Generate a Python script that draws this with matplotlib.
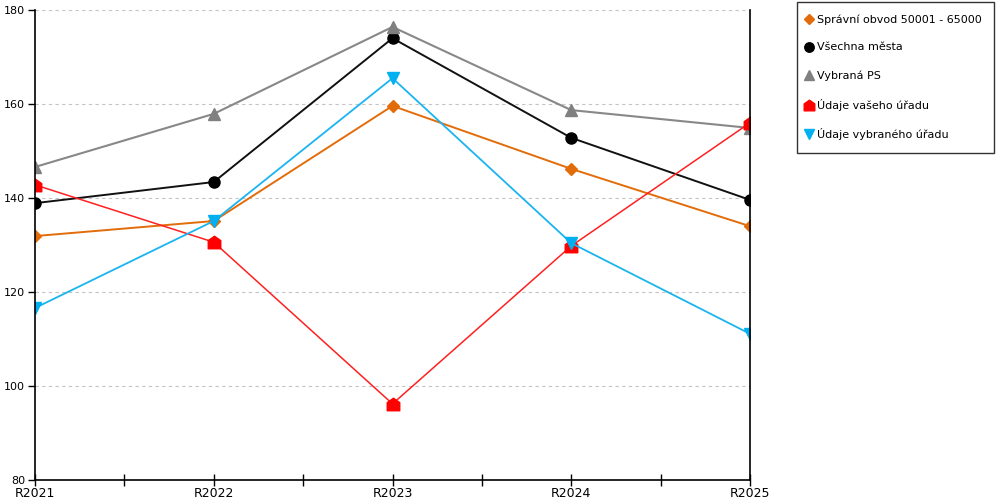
import matplotlib
matplotlib.use("Agg")
import matplotlib.pyplot as plt
from matplotlib.path import Path
from matplotlib.ticker import FixedLocator

years = ["R2021", "R2022", "R2023", "R2024", "R2025"]

spravni_obvod = [131.9, 135.1, 159.6, 146.2, 134.0]
vsechna_mesta = [138.9, 143.4, 174.0, 152.8, 139.6]
vybrana_ps = [146.6, 157.9, 176.4, 158.7, 154.9]
vas_urad = [142.8, 130.6, 96.2, 129.8, 156.0]
vybrany_urad = [116.6, 135.1, 165.5, 130.4, 111.1]

# little house shape for "your office"
house = Path([(-1, -1), (1, -1), (1, 0.3), (0, 1), (-1, 0.3), (-1, -1)],
             [Path.MOVETO, Path.LINETO, Path.LINETO, Path.LINETO, Path.LINETO, Path.CLOSEPOLY])

plt.rcParams['font.family'] = ['DejaVu Sans']

fig = plt.figure(figsize=(10, 5), dpi=100)
ax = fig.add_axes([0.035, 0.04, 0.715, 0.94])

x = list(range(len(years)))

ax.plot(x, spravni_obvod, color="#E36C0A", lw=1.4, marker="D", ms=6, label="Správní obvod 50001 - 65000")
ax.plot(x, vsechna_mesta, color="#111111", lw=1.4, marker="o", ms=8, mfc="black", mec="black", label="Všechna města")
ax.plot(x, vybrana_ps, color="#888888", lw=1.5, marker="^", ms=9, mfc="#808080", mec="#808080", label="Vybraná PS")
ax.plot(x, vas_urad, color="#FF2020", lw=1.1, marker=house, ms=9, mfc="red", mec="red", label="Údaje vašeho úřadu")
ax.plot(x, vybrany_urad, color="#1AB4F0", lw=1.3, marker="v", ms=9, mfc="#00B0F0", mec="#00B0F0", label="Údaje vybraného úřadu")

ax.set_xlim(0, 4)
ax.set_ylim(80, 180)
ax.set_yticks([80, 100, 120, 140, 160, 180])
ax.yaxis.grid(True, linestyle=(0, (3, 3)), color="#C4C4C4", lw=0.8)
ax.set_axisbelow(True)

ax.set_xticks(x)
ax.set_xticklabels(years, family=['Liberation Sans Narrow', 'DejaVu Sans'], fontsize=9)
ax.xaxis.set_minor_locator(FixedLocator([0.5, 1.5, 2.5, 3.5]))
ax.tick_params(axis="x", which="both", direction="inout", length=8, width=1, pad=1)
ax.tick_params(axis="y", direction="out", length=5, width=1, labelsize=8, pad=2)

ax.spines["top"].set_visible(False)
for s in ["left", "right", "bottom"]:
    ax.spines[s].set_linewidth(1.2)
    ax.spines[s].set_color("black")

leg = fig.legend(loc="upper left", bbox_to_anchor=(0.797, 0.996), fontsize=8,
                 frameon=True, fancybox=False, edgecolor="black",
                 handlelength=0, handletextpad=0.7, labelspacing=1.6,
                 borderpad=1.1, borderaxespad=0, markerscale=0.85)
for h in leg.legend_handles:
    h.set_linestyle("none")
leg.get_frame().set_linewidth(1.0)

fig.savefig("out.png", dpi=100)
